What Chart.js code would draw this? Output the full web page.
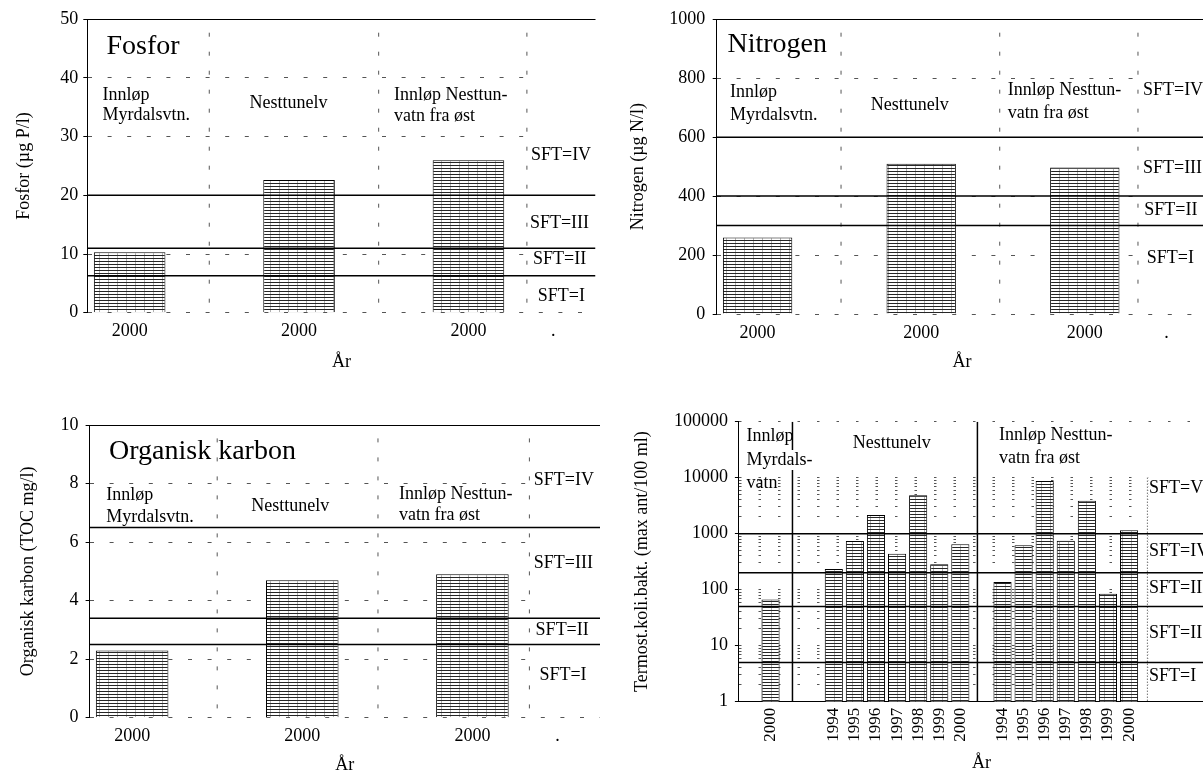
<!DOCTYPE html>
<html>
<head>
<meta charset="utf-8">
<script src="https://cdn.jsdelivr.net/npm/chart.js@4.4.1/dist/chart.umd.min.js"></script>
<style>
  body { margin: 0; background: #fff; overflow: hidden; }
  #wrap { position: relative; width: 1203px; height: 771px; overflow: hidden; background: #fff; }
  #wrap canvas { position: absolute; }
</style>
</head>
<body>
<div id="wrap">
  <canvas id="fosfor" width="600" height="385" style="left:0px;top:0px"></canvas>
  <canvas id="nitrogen" width="620" height="385" style="left:600px;top:0px"></canvas>
  <canvas id="karbon" width="600" height="400" style="left:0px;top:385px"></canvas>
  <canvas id="koli" width="640" height="400" style="left:600px;top:385px"></canvas>
</div>
<script>
// stasjonene: Innløp Myrdalsvtn. / Nesttunelv / Innløp Nesttunvatn fra øst
const siteLabels = ['2000', '', '2000', '', '2000', '.'];
const fosforVerdier = [10.3, null, 22.6, null, 26.0, null];
const nitrogenVerdier = [260, null, 510, null, 497, null];
const karbonVerdier = [2.3, null, 4.7, null, 4.9, null];

// SFT klassegrenser
const fosforSft = [6.3, 11, 20];
const nitrogenSft = [300, 400, 600];
const karbonSft = [2.5, 3.4, 6.5];
const koliSft = [5, 50, 200, 1000];

// skillelinjer mellom stasjonene (i kategorienheter fra venstre kant)
const fosforSkille = [1.44, 3.44, 5.19];
const nitrogenSkille = [1.52, 3.46, 5.15];
const karbonSkille = [1.50, 3.39, 5.17];
const koliSkille = [2.54, 11.31];
const koliSftSkille = [19.37];

// termostabile koliforme bakterier
const koliAar = ['', '2000', '', '',
  '1994', '1995', '1996', '1997', '1998', '1999', '2000', '',
  '1994', '1995', '1996', '1997', '1998', '1999', '2000', '', '', '', ''];
const koliVerdier = [null, 67, null, null,
  234, 740, 2160, 440, 4850, 284, 646, null,
  137, 619, 8720, 750, 3880, 85, 1150, null, null, null, null];
const koliTiere = [1, 10, 100, 1000, 10000, 100000];

Chart.defaults.font.family = '"Liberation Serif", "Times New Roman", serif';
Chart.defaults.font.size = 18;
Chart.defaults.color = '#000';
Chart.defaults.animation = false;
Chart.defaults.plugins.legend.display = false;
Chart.defaults.plugins.tooltip.enabled = false;

function skravur() {
  const c = document.createElement('canvas');
  c.width = 9; c.height = 3;
  const g = c.getContext('2d');
  g.fillStyle = '#fff'; g.fillRect(0, 0, 9, 3);
  g.fillStyle = '#b0b0b0'; g.fillRect(0, 0, 1, 3);
  g.fillStyle = '#262626'; g.fillRect(0, 0, 9, 1);
  return g.createPattern(c, 'repeat');
}

function skrivNotat(ctx, xl, y, n) {
  ctx.font = (n.size || 18) + 'px "Liberation Serif"';
  const px = xl.getPixelForValue(n.x), py = y.getPixelForValue(n.y);
  if (n.bg) {
    const w = ctx.measureText(n.text).width;
    ctx.fillStyle = '#fff';
    ctx.fillRect(px - 1, py - 10, w + 2, 20);
  }
  ctx.fillStyle = '#000';
  ctx.fillText(n.text, px, py);
}

// tekst og hvit bakgrunn i SFT-kolonnen
const pynt = {
  id: 'pynt',
  beforeDatasetsDraw(chart, args, opts) {
    const { ctx, chartArea } = chart;
    const xl = chart.scales.xl, y = chart.scales.y;
    ctx.save();
    if (opts.blank != null) {
      const left = xl.getPixelForValue(opts.blank) + 1;
      ctx.fillStyle = '#fff';
      ctx.fillRect(left, chartArea.top + 1, chartArea.right - left, chartArea.bottom - chartArea.top - 2);
    }
    ctx.textAlign = 'left';
    ctx.textBaseline = 'middle';
    (opts.notes || []).filter(n => !n.bg).forEach(n => skrivNotat(ctx, xl, y, n));
    ctx.restore();
  },
  afterDatasetsDraw(chart, args, opts) {
    const { ctx } = chart;
    ctx.save();
    ctx.textAlign = 'left';
    ctx.textBaseline = 'middle';
    (opts.notes || []).filter(n => n.bg).forEach(n => skrivNotat(ctx, chart.scales.xl, chart.scales.y, n));
    ctx.restore();
  }
};

function lagPanel(id, p) {
  const n = p.labels.length;
  const datasets = [{
    type: 'bar', xAxisID: 'x', data: p.values, grouped: false,
    backgroundColor: skravur(), borderColor: '#000', borderWidth: 1,
    barPercentage: p.barPct, categoryPercentage: 1, order: 2
  }];
  p.levels.forEach(v => datasets.push({
    type: 'line', xAxisID: 'xl', data: [{ x: 0, y: v }, { x: n, y: v }],
    borderColor: '#000', borderWidth: 1.5, pointRadius: 0, order: 0
  }));
  p.dividers.forEach(d => datasets.push({
    type: 'line', xAxisID: 'xl', data: [{ x: d.x, y: d.top }, { x: d.x, y: d.bottom }],
    borderColor: d.color, borderWidth: d.width, borderDash: d.dash, borderDashOffset: d.offset || 0,
    pointRadius: 0, order: 1
  }));

  const g = p.geo;
  const yScale = {
    type: p.log ? 'logarithmic' : 'linear',
    min: p.yMin, max: p.yMax,
    ticks: {
      stepSize: p.step, padding: g.yTickPad, autoSkip: false,
      callback: p.log ? (v => koliTiere.includes(v) ? String(v) : '') : (v => String(v))
    },
    grid: {
      color: p.gridColor, lineWidth: 1, tickLength: 4, tickColor: p.tickColor || '#000'
    },
    border: { display: true, color: '#000', width: 1, dash: p.gridDash },
    title: { display: true, text: p.yTitle, padding: { top: g.yTitlePad, bottom: 0 } },
    afterFit: s => { s.width = g.yWidth; }
  };
  if (p.log) {
    yScale.afterBuildTicks = s => {
      const t = [];
      for (let e = 0; e < 5; e++) {
        for (let m = 1; m < 10; m++) t.push({ value: m * Math.pow(10, e) });
      }
      t.push({ value: 100000 });
      s.ticks = t;
    };
  }

  return new Chart(document.getElementById(id), {
    type: 'bar',
    data: { labels: p.labels, datasets: datasets },
    options: {
      responsive: false,
      layout: { padding: { top: g.padTop, right: g.padRight, left: 0, bottom: 0 } },
      scales: {
        x: {
          type: 'category', offset: true,
          grid: { display: false, drawTicks: false },
          border: { display: !!p.xBorder, color: '#000', width: 1 },
          ticks: {
            autoSkip: false, padding: g.xTickPad,
            minRotation: p.rot || 0, maxRotation: p.rot || 0,
            font: { size: p.xFont || 18 }
          },
          title: { display: true, text: 'År', padding: { top: 0, bottom: g.xTitlePad } },
          afterFit: s => { s.height = g.xHeight; }
        },
        xl: { type: 'linear', display: false, min: 0, max: n, offset: false },
        y: yScale
      },
      plugins: { pynt: { blank: p.blank, notes: p.notes } }
    },
    plugins: [pynt]
  });
}

function stiplet(list, top, bottom) {
  return list.map(x => ({ x: x, top: top, bottom: bottom, color: '#555', width: 1, dash: [4, 15], offset: 5.6 }));
}
function toppHel(max) {
  return ctx => (ctx.tick && ctx.tick.value === max) ? [] : [4, 15.6];
}
function toppFarge(max) {
  return ctx => (ctx.tick && ctx.tick.value === max) ? '#000' : '#555';
}
function sftTekst(xs, ys, names) {
  return ys.map((y, i) => ({ text: names[i], x: xs[i], y: y }));
}
const sftNavn = ['SFT=IV', 'SFT=III', 'SFT=II', 'SFT=I'];

lagPanel('fosfor', {
  labels: siteLabels, values: fosforVerdier, levels: fosforSft,
  dividers: stiplet(fosforSkille, 50, 0),
  yMin: 0, yMax: 50, step: 10, barPct: 0.845,
  yTitle: 'Fosfor (µg P/l)',
  gridColor: toppFarge(50), gridDash: toppHel(50),
  blank: fosforSkille[2],
  geo: { yWidth: 87.3, xHeight: 72.3, padTop: 19.3, padRight: 4.5, yTitlePad: 13, yTickPad: 5, xTickPad: 8, xTitlePad: 12 },
  notes: [
    { text: 'Fosfor', x: 0.226, y: 45.3, size: 28 },
    { text: 'Innløp', x: 0.18, y: 37.1 },
    { text: 'Myrdalsvtn.', x: 0.18, y: 33.7 },
    { text: 'Nesttunelv', x: 1.915, y: 35.7 },
    { text: 'Innløp Nesttun-', x: 3.62, y: 37.1 },
    { text: 'vatn fra øst', x: 3.62, y: 33.5 }
  ].concat(sftTekst([5.238, 5.226, 5.262, 5.318], [26.9, 15.3, 9.15, 2.85], sftNavn))
});

lagPanel('nitrogen', {
  labels: siteLabels, values: nitrogenVerdier, levels: nitrogenSft,
  dividers: stiplet(nitrogenSkille, 1000, 0),
  yMin: 0, yMax: 1000, step: 200, barPct: 0.848,
  yTitle: 'Nitrogen (µg N/l)',
  gridColor: toppFarge(1000), gridDash: toppHel(1000),
  blank: nitrogenSkille[2],
  geo: { yWidth: 116.7, xHeight: 71, padTop: 19.3, padRight: 12.5, yTitlePad: 27.5, yTickPad: 7.5, xTickPad: 8, xTitlePad: 12 },
  notes: [
    { text: 'Nitrogen', x: 0.131, y: 912.8, size: 28 },
    { text: 'Innløp', x: 0.163, y: 754 },
    { text: 'Myrdalsvtn.', x: 0.163, y: 675 },
    { text: 'Nesttunelv', x: 1.883, y: 709 },
    { text: 'Innløp Nesttun-', x: 3.558, y: 758 },
    { text: 'vatn fra øst', x: 3.558, y: 681 }
  ].concat(sftTekst([5.211, 5.211, 5.227, 5.257], [760, 495, 350.5, 190], sftNavn))
});

lagPanel('karbon', {
  labels: siteLabels, values: karbonVerdier, levels: karbonSft,
  dividers: stiplet(karbonSkille, 10, 0),
  yMin: 0, yMax: 10, step: 2, barPct: 0.853,
  yTitle: 'Organisk karbon (TOC mg/l)',
  gridColor: toppFarge(10), gridDash: toppHel(10),
  blank: karbonSkille[2],
  geo: { yWidth: 89.6, xHeight: 67.3, padTop: 40, padRight: 0, yTitlePad: 17, yTickPad: 7, xTickPad: 8, xTitlePad: 9.2 },
  notes: [
    { text: 'Organisk karbon', x: 0.228, y: 9.08, size: 28 },
    { text: 'Innløp', x: 0.197, y: 7.6 },
    { text: 'Myrdalsvtn.', x: 0.197, y: 6.86 },
    { text: 'Nesttunelv', x: 1.901, y: 7.23 },
    { text: 'Innløp Nesttun-', x: 3.638, y: 7.63 },
    { text: 'vatn fra øst', x: 3.638, y: 6.92 }
  ].concat(sftTekst([5.221, 5.221, 5.243, 5.288], [8.11, 5.27, 2.99, 1.46], sftNavn))
});

lagPanel('koli', {
  labels: koliAar, values: koliVerdier, levels: koliSft, log: true,
  dividers: koliSkille.map(x => ({ x: x, top: 100000, bottom: 1, color: '#000', width: 1.5, dash: [] }))
    .concat(koliSftSkille.map(x => ({ x: x, top: 10000, bottom: 1, color: '#333', width: 1, dash: [1, 2] }))),
  yMin: 1, yMax: 100000, barPct: 0.86,
  yTitle: 'Termost.koli.bakt. (max ant/100 ml)',
  gridColor: ctx => {
    const v = ctx.tick && ctx.tick.value;
    return (v > 10000 && v < 100000) ? 'rgba(0,0,0,0)' : '#555';
  },
  tickColor: ctx => (ctx.tick && koliTiere.includes(ctx.tick.value)) ? '#000' : 'rgba(0,0,0,0)',
  gridDash: [2.5, 17],
  xBorder: true, rot: 90, xFont: 17,
  blank: koliSftSkille[0],
  geo: { yWidth: 138.9, xHeight: 83.3, padTop: 36.7, padRight: 9.1, yTitlePad: 31, yTickPad: 7, xTickPad: 6, xTitlePad: 11.2 },
  notes: [
    { text: 'Innløp', x: 0.36, y: 54000 },
    { text: 'Myrdals-', x: 0.36, y: 20700, bg: true },
    { text: 'vatn', x: 0.36, y: 7940 },
    { text: 'Nesttunelv', x: 5.40, y: 41100 },
    { text: 'Innløp Nesttun-', x: 12.33, y: 57900 },
    { text: 'vatn fra øst', x: 12.33, y: 22200 },
    { text: 'SFT=V', x: 19.45, y: 6550 },
    { text: 'SFT=IV', x: 19.45, y: 477 },
    { text: 'SFT=III', x: 19.45, y: 107 },
    { text: 'SFT=II', x: 19.45, y: 16.9 },
    { text: 'SFT=I', x: 19.45, y: 2.8 }
  ]
});
</script>
</body>
</html>
